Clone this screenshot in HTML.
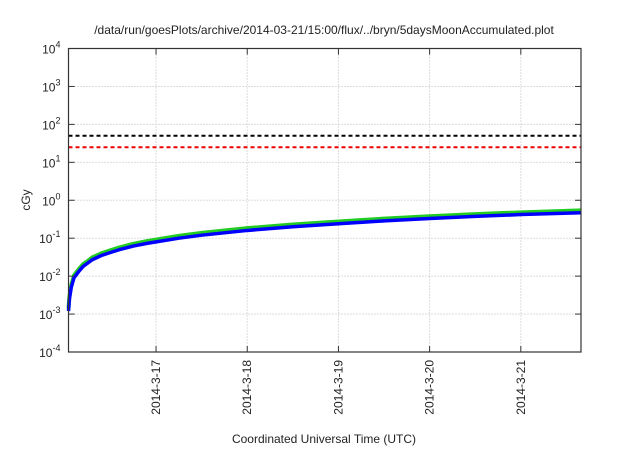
<!DOCTYPE html>
<html><head><meta charset="utf-8"><style>
body{margin:0;background:#fff;font-family:"Liberation Sans",sans-serif;}
svg text{font-family:"Liberation Sans",sans-serif;fill:#222;}
</style></head><body>
<svg id="c" width="640" height="448">
<text x="324" y="34" text-anchor="middle" font-size="12">/data/run/goesPlots/archive/2014-03-21/15:00/flux/../bryn/5daysMoonAccumulated.plot</text>
<text transform="translate(30,200) rotate(-90)" text-anchor="middle" font-size="12">cGy</text>
<text x="324" y="443" text-anchor="middle" font-size="12">Coordinated Universal Time (UTC)</text>
<g id="grid"></g><g id="marks"></g><g id="axes"></g>
</svg>
<script>
const dayLabels=["2014-3-17","2014-3-18","2014-3-19","2014-3-20","2014-3-21"];
const dayPos=[0,1,2,3,4];
const yExps=[-4,-3,-2,-1,0,1,2,3,4];
const times=[-0.96,-0.95,-0.93,-0.9,-0.85,-0.8,-0.75,-0.7,-0.6,-0.5,-0.4,-0.25,-0.1,0,0.25,0.5,1,1.5,2,2.5,3,3.5,4,4.66];
const blueVals=[0.0012,0.0025,0.005,0.009,0.013,0.018,0.022,0.027,0.035,0.042,0.05,0.062,0.073,0.08,0.1,0.12,0.16,0.2,0.24,0.285,0.33,0.375,0.42,0.47];
const greenVals=[0.0014,0.0029,0.0058,0.0104,0.015,0.0207,0.025,0.031,0.04,0.048,0.057,0.071,0.084,0.092,0.115,0.138,0.184,0.23,0.276,0.328,0.38,0.431,0.48,0.54];
const limitBlack=50, limitRed=25;
const L=68.5,R=581,T=48.5,B=352,x0=-0.96,x1=4.66;
const X=t=>L+(t-x0)/(x1-x0)*(R-L);
const Y=v=>B-(Math.log10(v)+4)/8*(B-T);
const NS="http://www.w3.org/2000/svg";
function mk(p,tag,a){const e=document.createElementNS(NS,tag);for(const k in a)e.setAttribute(k,a[k]);p.appendChild(e);return e;}
const g=document.getElementById('grid'),m=document.getElementById('marks'),ax=document.getElementById('axes');
yExps.forEach(n=>{const y=Y(Math.pow(10,n));
 if(n>-4&&n<4){const l=mk(g,'line',{x1:L,x2:R,y1:y,y2:y,stroke:'#bbb','stroke-dasharray':'1,2'});
 
 }
 mk(ax,'line',{x1:L,x2:L+6,y1:y,y2:y,stroke:'#333'});mk(ax,'line',{x1:R-6,x2:R,y1:y,y2:y,stroke:'#333'});
 const t=mk(ax,'text',{x:L-8,y:y+5,'text-anchor':'end','font-size':'12'});
 
 
 t.textContent='10';const s=mk(t,'tspan',{dy:-6,'font-size':'9'});s.textContent=String(n);});
dayPos.forEach((d,i)=>{const x=X(d);
 const l=mk(g,'line',{x1:x,x2:x,y1:T,y2:B,stroke:'#bbb','stroke-dasharray':'1,2'});
 
 
 mk(ax,'line',{x1:x,x2:x,y1:B-6,y2:B,stroke:'#333'});mk(ax,'line',{x1:x,x2:x,y1:T,y2:T+6,stroke:'#333'});
 const t=mk(ax,'text',{transform:`translate(${x+4},${B+8}) rotate(-90)`,'text-anchor':'end','font-size':'12'});
 
 
 t.textContent=dayLabels[i];});
const hb=mk(m,'line',{x1:L,x2:R,y1:Y(limitBlack),y2:Y(limitBlack),stroke:'#000','stroke-width':2,'stroke-dasharray':'4,3'});


const hr=mk(m,'line',{x1:L,x2:R,y1:Y(limitRed),y2:Y(limitRed),stroke:'#e00','stroke-width':2,'stroke-dasharray':'4,3'});


const pts=v=>times.map((t,i)=>X(t)+','+Y(v[i])).join(' ');
const gl=mk(m,'polyline',{points:pts(greenVals),fill:'none',stroke:'#2c2','stroke-width':4,'stroke-linejoin':'round'});


const bl=mk(m,'polyline',{points:pts(blueVals),fill:'none',stroke:'#00f','stroke-width':3.5,'stroke-linejoin':'round'});


const fr=mk(ax,'rect',{x:L,y:T,width:R-L,height:B-T,fill:'none',stroke:'#333','stroke-width':1.2});


</script>
</body></html>
